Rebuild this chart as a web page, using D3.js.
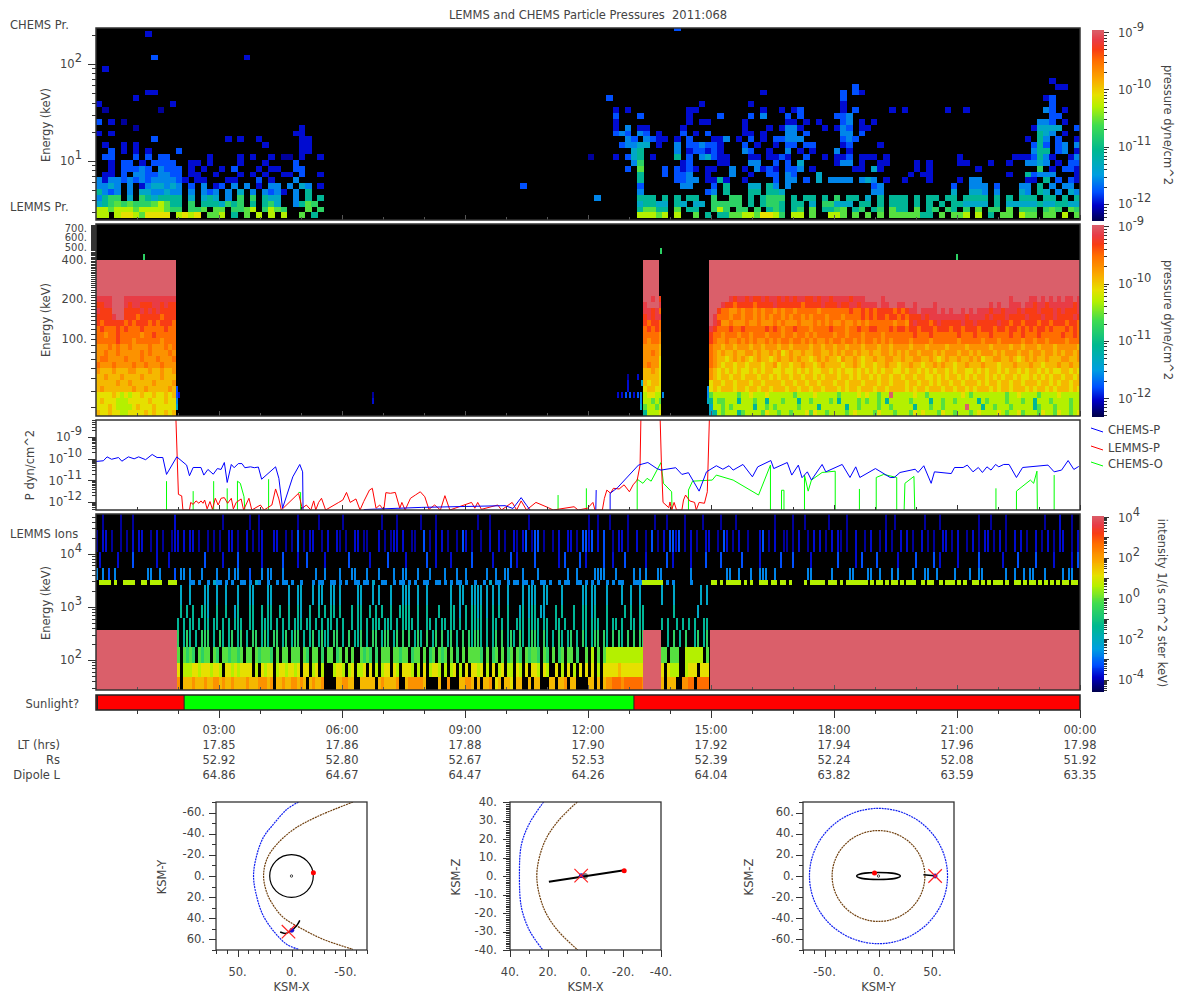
<!DOCTYPE html>
<html>
<head>
<meta charset="utf-8">
<title>LEMMS and CHEMS Particle Pressures</title>
<script src="https://d3js.org/d3.v7.min.js"></script>
<style>
  html, body { margin: 0; padding: 0; background: #fff; }
  text { font-family: "DejaVu Sans", sans-serif; font-size: 11.5px; fill: #444; }
  rect.cell { shape-rendering: crispEdges; }
  .tick line { stroke: #333; shape-rendering: crispEdges; }
  .domain { display: none; }
</style>
</head>
<body>
<div id="chart"></div>
<script>
// level characters used in all the spectrogram rows, "." means no data (black)
const levelChars = "0123456789abcdef";
// position of each level on the colour bar, 0 is the bottom and 1 the top
const levelPos = [0.05, 0.09, 0.15, 0.21, 0.28, 0.36, 0.46, 0.52, 0.6, 0.66, 0.72, 0.78, 0.84, 0.9, 0.95, 1];
const rampPos = [0, 0.08, 0.15, 0.24, 0.37, 0.5, 0.6, 0.66, 0.74, 0.84, 0.9, 0.95, 1];
const rampColors = ["#000050", "#0000c8", "#0050ff", "#009fe0", "#00b890", "#3fdc50", "#b4f000", "#e6e000", "#faaa00", "#ff6e00", "#f83c14", "#e83c46", "#da5f6a"];

// CHEMS pressure: one character every 9 minutes, top row first
const chemsLeftCol = 0;
const chemsLeft = [
  "........1. .......... .......... .......",
  ".......... .......... .......... .......",
  ".......... .......... .......... .......",
  ".......... .......... .......... .......",
  ".........2 .......... ....1..... .......",
  ".......... .......... .......... .......",
  ".1........ .......... .......... .......",
  ".......... .......... .......... .......",
  ".......... .......... .......... .......",
  ".......... .......... .......... .......",
  "........11 .......... .......... .......",
  "......1... .......... .......... .......",
  "1......... ..1....... .......... .......",
  ".0........ 0......... .......... .......",
  ".......... .......... .......... .......",
  "2.1.0..... .......... .......... .......",
  "......0... .......... .......... ...1...",
  "1.1....... .......... .......... ..11...",
  ".........2 .......... .1.1..1... ...11..",
  ".1..1.1... .......... .......1.. ...11..",
  "..2.1.1.1. ...2...... .......... ...11..",
  ".22...2.2. 22......1. ...1.1..1. 00.1..1",
  "..1.22.1.2 222..11.1. ...1...1.. ..2....",
  "..1.22232. 3222.1.1.. 1.2...1.11 ..22...",
  ".11.2.3322 3322.11..1 ...1.1.1.. 11.2..1",
  "3133232323 33321.11.. .11...2.1. ..3....",
  "3343.3.134 4343.2.3.1 2.3.3.1.33 .3.43.1",
  "5323.3.443 3433.3.323 .3.4.3.323 1.3.5..",
  "3566.4.654 5555.4.454 .3.6.6.544 ..3.5.5",
  "4567676667 8755.6.555 4656.5.564 ..3576.",
  "8878887888 8766.667.7 7.6678.687 6...7.6",
  "88.8998799 99.8989.77 8.5.7.8.8. 8..7.5."
];
const chemsRightCol = 81;
const chemsRight = [
  ".......... .......... .......... .......... .......... .......... .......... ....1....",
  ".......... .......... .......... .......... ..2....... .......... .......... .....11..",
  ".......... .......... .......1.. .......... 2.21...... .......... .......... .........",
  "..2....... .......... .......... .......... 2......... .......... .......... ...12....",
  ".......... .......1.. .....1.... .......... 1......... .......... .......... ....2....",
  "...1.1.... .....11... .......1.. 1.12...... 1.2.....1. 1......1.. 1......... ...32.1..",
  "...2...2.. .....1.... 2....2.3.. .2.2.....2 23........ .......... .......... ....22...",
  "...1...... .....1.11. ....1..... .11.1.1... 23.1.1.... .......... .......... ..332.1..",
  "...1.3.11. ....1..... ....1...1. 1331...1.1 32.11..... .......... .......... .14444..2",
  "...232.32. 1...2.1.2. ....11.1.. .33.2..... 33.2...... .......... .......... ..543.1..",
  ".....32.32 11.1.2...1 13.1.2.1.2 2333...... 232....... .......... .......... 1.53.2..1",
  "....23344. 1..3.22322 1...2.1..1 .22.22.... 12....1... .......... .......... .252.23.3",
  "......45.. ...3.12212 1...32..1. .3.1.1...3 .1........ .......... .......... .355.23.1",
  "...1.245.1 ...5.2.342 11...11.11 21..2..1.1 12.111.1.. .........1 ........11 12531..13",
  "......36.. ....12.... 11...33..2 .2.4.....1 33.1..11.. ..1.1....1 1...1..1.. 3343.1.22",
  ".....2.7.. .2.2121.11 ..3.1.3121 .223.1.... ..11.41... ..1.1..... ..1....... ..6.1.221",
  ".......5.. .2.223..1. ..3..1..22 .32...4... .......... .1.11..... .......1.. 52333...1",
  ".......5.. ...2233.11 51..1....2 .33.2.4.33 33.343.1.. 1...1....1 .33....... 11.5.2.21",
  ".......2.. ....33...2 .5...44.53 .3........ .....23... ........2. .333.2...3 3.5.3.33.",
  ".......3.. ........23 .5...55.55 4......... .....33... ........4. .443.3...4 3.54.3.43",
  "3......555 .5.5.55..6 ..66.5.566 6.5.55.5.6 .55.4.5.55 5.5.55.55. 5555.5.5.5 55.55.5.5",
  ".......455 44.54.44.6 6666.5.566 5.55.4.664 44.55.5.55 5.5.5.5.55 4444.5.444 445445544",
  ".......577 55.7.55..6 86.66.6.56 5.56.7.556 7.56.56.75 5.7.56.65. 6.7.66.7.6 66.676.76",
  ".......888 78.8..7.5. 5577887998 6.88.7..88 7.7.7.7.77 77755.7.77 8.8.5.77.8 77.77.8.7"
];
// a few cells outside the two blocks: [column, row, level]
const chemsStray = [[69, 5, 2], [94, 32, 2], [80, 10, 0]];
const chemsBaseEnergy = 2.56;
const chemsRowRatio = 1.149;

// LEMMS pressure: one character every 4 pixels of time, top row first
const lemmsColHours = 0.0976;
const lemmsLeftStart = 0;
const lemmsLeft = [
  "eeeefffeeeeeeeeeeeee",
  "ddeefffedeedddeededd",
  "edddfffddddedededddd",
  "ddddeffdddcdddddcddd",
  "dcdddddcdcdddcdcdddc",
  "cdcccdcdcccdcccccdcc",
  "ccbccdcccccbccdccccc",
  "cccccdcccbccccccbccc",
  "bbbcbcbbcbbbbcbbbcbc",
  "bbcbbcbbbbbcbcbbbbcb",
  "bccbbbbcbbbcbbbcbbbc",
  "cbbbcbbbbcbbcbbbcbbb",
  "baaabaaabbaaabaabaab",
  "aabaaabaaaabaaaabaaa",
  "aaaaabaabaaaaabaaaab",
  "abaaaaaaabaabaaaaaba",
  "9999a989899a99a99a9a",
  "9a99988899999a999a99",
  "999a988889a999a99999",
  "a99a99889999a9a99a9a"
];
const lemmsMidStart = 13.34;
const lemmsMid = [
  "ffefd", "efffe", "eedec", "dedee", "dcddc", "cdcdc", "ccccb", "cbccb", "bbbba", "bbcba",
  "bbbb9", "bcbb9", "aaba9", "aaaa9", "a9aa9", "9aa99", "89988", "88787", "78878", "58889"
];
const lemmsRightStart = 14.95;
const lemmsRight = [
  "fffffedeed eddedeeded edeeddedee deeeedeeef fffeffffff ffffffffff ffffffffff fffffeffff eefefefefe efe",
  "fffeddcddd dcddddeddd dddcdddded ddeddeedee eefeeffeef feffffefff ffffffffff efeffeeefe edeedeeeee ede",
  "ffdccbbcbc cbcbccbcbc cbcccccbcc cccccdccdc dcddddcdcd eefeeeefef effefefeee deedeeeded ddedddeded dde",
  "fecccbccbc cbcbcbccbc bccbcbcccb cccbccccdc dcddcddcdc dddedeeeee eeeedeeeed edddedddde dddeddeddd ded",
  "fedbbcbbbc bbcbbbcbcb bbcbbbcbcb cbbcbbcbcb ccccccbccb dedddcdedd dddeddeddd ddeddcddcd ddcddcdddc ddc",
  "edcccdccdc ccccdcdcbc cdcccbcccc dcccbccdcc ddcccdcddc ddcdddcddd cddcdddcdd dcddcddcdc dcddcdcccd cdc",
  "dccbcccbcc bcccbcccbc cbccbcbccc cbccbcccbc cccbcccccc cdcccdcccc ccdcccdccc dccccdccdc ccdcccccdc cdc",
  "dcbbcbbcbc bcbbcbcbcc bccbcbcbbc bccbccbcbc cbcbcbcccc bccccbcccc ccbcccccbc ccbcccccbc cbccbccccb ccc",
  "cbbabbabbb abbabbbabb abbbbabbab babbabbbab bbabbabbbb abbbabbbba bbbbabbbbb abbbbabbab bbabbbabbb bba",
  "cbabaabaab babaabab9a baabaabbaa bababbabaa baabbababa bbabbbabab bbabbababb bababbbabb abbabbabab bab",
  "cbaa9ababa 9abaa9abaa babaa9abab aa9baaba9a abaabbaaba abbaaba9ab aabaabab9a abbaaba9ab abaabaaabb aab",
  "cba9aa9aa9 aaa9aab9aa 9aabaa9aba aaa9aaba9a a9aabaa9aa baa9aababa a9aabaaaba aa9aaabaaa baa9aaabaa baa",
  "ba9a9a9a99 a9a9aa99a9 9a9a9a99aa 9a9a99a9a9 a9a9aa99a9 aa9a9a9aa9 a9aa99a9a9 aa9a9aa9a9 aa9a9a99aa 9a9",
  "ba9aa9aa9a aa9aa9a9aa 9aa9aa9a9a aa9aa9a9aa 9a9aa9aa9a a9aa99a9a9 aa9a9a9aa9 a9a9aa9a99 a9a9a9aa9a a9a",
  "9aa9aa9aaa 9aa9aaaa9a a9aa9aa9aa a9aa9aaa9a aa9aa9aaa9 aa9aa9a9aa 9aa9aaa9a9 aa9aa9aa9a aa9aa9a9aa 9aa",
  "9a9aaa9aa9 aa9aa9aaa9 aa9aa9aa9a aa9a9aa9aa a9aa9aaaa9 a9aa9aaa9a a9aa9a9aaa 9a9aa9aaa9 a9aa9a9aaa 9a9",
  "7888888788 9888988888 8788889888 8878888989 88788.8888 8988788888 8889878888 8888788988 8878888988 888",
  "5877888588 8788588878 8858878888 7858888787 8878588888 7888858878 8788888587 8888788878 8588878888 788",
  "4887878888 8588787888 8878888588 8888588788 8878878888 8588878878 8888.88858 8788878888 8578887888 788",
  "4587888578 8887988788 7888979887 8888789888 8798887888 7989888798 8788878988 8898788978 8879887988 789"
];
// saturated (salmon) stretches of LEMMS pressure, start and end hour
const lemmsSatStart = [0, 13.34, 14.95];
const lemmsSatEnd = [1.95, 13.73, 24];
const lemmsBaseEnergy = 25.6;
const lemmsRowRatio = 1.112;
const lemmsSatTop = 404;
// small patches outside the blocks: [hour, row, level]
const lemmsStray = [
  [1.15, 26, 6], [13.76, 27, 6], [20.98, 26, 6], [1.95, 3, 2], [2.0, 3, 1], [1.95, 4, 2], [1.95, 2, 3],
  [1.95, 1, 4], [6.73, 3, 0], [6.73, 2, 1], [12.7, 3, 1], [12.8, 3, 1], [12.9, 3, 2], [13.0, 3, 2],
  [13.1, 3, 1], [13.2, 3, 2], [13.28, 3, 3], [13.2, 6, 1], [13.28, 1, 4], [13.28, 2, 3], [13.29, 5, 4],
  [12.95, 4, 1], [12.95, 5, 1], [12.95, 6, 0], [13.8, 3, 3], [14.9, 3, 3], [14.9, 2, 4], [14.9, 4, 3]
];

// line panel, hours and log10 of the pressure, null breaks the line
const chemsPHours = [0, .18, .27, .38, .55, .63, .79, .93, 1.04, 1.21, 1.37, 1.49, 1.63, 1.72, 1.97, 2.21, 2.28, 2.37, 2.56, 2.63, 2.73, 2.86, 2.96, 3.05, 3.13, 3.20, 3.30, 3.37, 3.47, 3.56, 3.63, 3.77, 3.86, 3.96, 4.04, 4.38, 4.46, 4.55, 4.80, 4.97, 5.04, 5.05, 5.06,
  6.53, 7.93, 9.98, 10.17, 10.37, 10.5, 10.6, 10.61,
  12.19, 12.2, 12.21,
  12.54, 12.54, 12.72, 13.23, 13.46, 13.68, 13.78, 14.14, 14.29, 14.45, 14.71, 14.89, 15.13, 15.29, 15.44, 15.54, 15.78, 16.01, 16.14, 16.46, 16.53, 16.86, 16.97, 17.13, 17.22, 17.35, 17.45, 17.71, 17.80, 18.20, 18.39, 18.53, 18.63, 19.01, 19.37, 19.47, 19.61, 19.98, 20.05, 20.19, 20.37, 20.45, 20.86, 20.94, 21.15, 21.25, 21.39, 21.52, 21.62, 21.73, 21.83, 21.94, 22.02, 22.14, 22.27, 22.45, 22.60, 23.22, 23.37, 23.55, 23.71, 23.85, 23.97];
const chemsPLog = [-10.13, -10.10, -9.92, -10.03, -9.95, -10.12, -9.92, -10.01, -9.92, -10.05, -9.81, -9.95, -9.95, -10.73, -9.92, -10.30, -10.79, -10.41, -10.41, -10.76, -10.50, -10.72, -10.46, -10.50, -10.18, -11.10, -10.27, -10.42, -10.23, -10.23, -10.42, -10.38, -10.42, -10.39, -10.95, -10.38, -10.91, -12.29, -10.84, -10.27, -10.61, -12.37, null,
  -12.35, -12.25, -12.17, -12.3, -11.8, -12.15, -12.4, null,
  -12.4, -11.45, null,
  -12.4, -11.60, -11.34, -10.30, -10.18, -10.46, -10.53, -10.42, -10.73, -10.65, -11.50, -10.61, -10.33, -10.49, -10.33, -10.53, -10.27, -10.84, -10.38, -10.09, -10.46, -10.18, -10.76, -10.30, -10.88, -10.61, -10.99, -10.27, -10.61, -10.27, -10.87, -10.38, -10.87, -10.46, -10.87, -10.87, -10.64, -10.49, -10.64, -10.33, -11.14, -10.61, -10.69, -10.41, -10.41, -10.30, -10.61, -10.41, -10.64, -10.38, -10.53, -10.27, -10.38, -10.27, -10.27, -10.87, -10.41, -10.30, -10.61, -10.53, -10.09, -10.50, -10.36];

const lemmsPHours = [1.95, 2.01, 2.09, 2.12, 2.28, 2.31, 2.37, 2.44, 2.51, 2.56, 2.61, 2.65, 2.71, 2.78, 2.84, 2.91, 2.98, 3.05, 3.13, 3.21, 3.30, 3.35, 3.42, 3.54, 3.60, 3.73, 3.80, 4.01, 4.10, 4.19, 4.29, 4.38, 4.46, 4.52, 4.94, 5.03, 5.13, 5.24, 5.31, 5.36, 5.43, 5.50, 5.60, 5.92, 6.02, 6.11, 6.20, 6.34, 6.44, 6.53, 6.67, 6.74, 6.83, 6.92, 7.02, 7.07, 7.18, 7.30, 7.41, 7.46, 7.54, 7.67, 7.79, 7.91, 8.02, 8.12, 8.26, 8.40, 8.51, 8.63, 9.16, 9.24, 9.31, 9.40, 9.80, 9.89, 10.15, 10.26, 10.37, 10.50, 10.73, 11.03, 11.15, 11.66, 11.76, 11.99, 12.12, 12.17, 12.35, 12.40, 12.46, 12.55, 12.62, 12.76, 12.88, 13.01, 13.10, 13.20, 13.27, 13.29, 13.76, 13.79, 13.83, 13.97, 14.0, 14.04, 14.10, 14.16, 14.29, 14.33, 14.38, 14.48, 14.60, 14.64, 14.71, 14.84, 14.91, 14.96];
const lemmsPLog = [-8.2, -11.65, -11.72, -12.37, -12.37, -12.02, -12.11, -11.95, -12.06, -11.95, -12.06, -11.91, -12.32, -11.98, -12.34, -11.83, -12.14, -11.83, -11.80, -12.06, -11.83, -12.32, -12.02, -11.86, -12.37, -11.83, -12.37, -12.14, -12.37, -12.26, -12.14, -11.40, -11.86, -12.37, -11.60, -12.29, -12.14, -12.37, -11.95, -12.37, -12.02, -11.83, -12.37, -12.02, -11.91, -11.56, -12.02, -11.86, -12.37, -11.98, -11.45, -11.37, -12.29, -12.14, -12.37, -11.57, -11.60, -11.56, -12.29, -12.02, -12.37, -11.83, -11.68, -11.53, -11.76, -12.34, -12.14, -12.37, -11.71, -12.37, -12.02, -12.29, -12.02, -12.34, -12.14, -12.37, -12.02, -12.37, -11.95, -12.37, -12.02, -12.26, -12.37, -12.22, -12.37, -12.29, -12.02, -12.37, -12.37, -11.83, -11.45, -11.60, -11.37, -11.40, -11.21, -11.53, -11.21, -10.99, -10.30, -8.2, -8.2, -10.18, -12.02, -12.26, -12.0, -12.37, -12.02, -12.37, -12.37, -11.91, -11.68, -11.95, -12.02, -12.37, -12.02, -12.06, -11.53, -8.2];

const chemsOHours = [1.72, 1.72, null, 2.37, 2.37, null, 2.87, 2.87, null, 3.20, 3.20, null, 3.45, 3.45, 3.52, 3.61, 3.63, null, 4.21, 4.21, null, 4.94, 4.99, 4.99, null, 11.27, 11.27, null, 11.96, 11.96, null,
  13.20, 13.20, 13.34, 13.44, 13.54, 13.78, 13.84, 14.04, 14.05, null, 14.45, 14.45, 14.55, 15.03, 15.13, 15.54, 16.16, 16.45, 16.45, null, 16.72, 16.72, 16.78, 16.78, null, 17.28, 17.28, 17.37, 17.45, 17.71, 18.03, 18.03, null, 18.62, 18.62, null, 19.03, 19.03, 19.21, 19.53, 19.53, null, 19.71, 19.73, 19.95, 19.97, null, 21.95, 21.95, null, 22.45, 22.45, 22.79, 22.87, 22.95, 22.96, null, 23.37, 23.37];
const chemsOLog = [-12.4, -11.04, null, -12.4, -11.50, null, -12.4, -11.04, null, -12.4, -11.37, null, -12.4, -11.04, -11.14, -11.76, -12.4, null, -12.4, -10.95, null, -11.56, -11.56, -12.4, null, -12.4, -11.68, null, -12.4, -11.37, null,
  -12.4, -10.95, -11.14, -10.91, -11.04, -10.18, -11.14, -11.53, -12.4, null, -12.4, -11.45, -11.04, -10.99, -10.76, -10.99, -11.68, -10.30, -12.4, null, -12.4, -11.46, -11.46, -12.4, null, -12.4, -10.76, -11.50, -10.99, -10.64, -10.58, -12.4, null, -12.4, -11.40, null, -12.4, -10.87, -10.73, -10.87, -12.4, null, -12.4, -11.14, -10.82, -12.4, null, -12.4, -11.37, null, -12.4, -11.50, -10.99, -11.14, -10.58, -12.4, null, -12.4, -10.76];

// LEMMS ions energy channels, keV edges from the bottom up
const ionEdges = [27, 48, 88, 176, 368, 620, 1090, 2600, 3200, 5400, 10900, 28300, 56000];
const ionColHours = 0.0732;
const ionLowStart = [1.976, 13.78];
const ionLow = [
  // channels 6 down to 0, first 156 characters fall in the first stretch, last 16 in the second
  [".4..4....4 4..4..4... 4...44.... 44.....4.. 44...4.44. .44.4..... 44...4.4.. .4...444.. 4..4...... .4..44..44 44.4.4.4.. 4....4.444 ..44....4. .....44.44 ...4....4. .4..4.", "4...4........4.4"],
  [".5.5.5..55 4..5..5..4 5...55..5. 55..5..5.. 54..5..5.5 .55.5...5. 55..5.5.5. .5..5555.. 5..5...5.. .55.4.5.55 45.4.5.5.. 5...45.455 .44...5.5. ..5..55.45 ...5.....5 .5..55", "....5.......4..."],
  ["5.5.55.5.5 5.55.5.5.5 55..55..55 55.5.5.5.5 55.55.5.5. 55.5.5..5. 55.5.555.5 55.5.5555. 5..55.5.55 .55.5.5.55 55.5.55.5. 5..555.555 5.55..55.5 ..5..55.55 5..5.55.5. .55.55", "5.5..5.5.5.5..55"],
  ["6.565.5.66 6.5.65.56. 56.5.66.56 5.66.56.56 6.5.56.565 5.66.5.6.5 56.5.66.56 6.56.6.6.5 65.6.56.6. 56.5.6.656 65.5.56.6. 565.65.566 5.65.5.65. 56.5.65.56 6.65.6.65. 6.6.66", "..5.6.5.6..56.56"],
  ["7.7676.767 7.76.77677 67.77.7677 76.7.77.77 7.76.77.6. 77.67.7.7. .7676.6.77 7.77677.67 7.7.67.767 .7.6.7.777 76.7.67.7. 67.76.7677 6.76.7.67. 77.6..7.8. 7.78888888 888888", "77.777..888888.7"],
  ["9.88899899 98998.9989 89999.8.98 99.8998998 9.99.89.8. ..8998.89. 889.9.8.89 9.98.9998. 8.9.8998.8 .89.8.9.99 89.8.9.89. 88.98.9.99 8.98..9.8. 9.8.9.9.9. 8.99999a99 999999", "9.9888..8999.999"],
  ["b.aaabaaab aabbabaaba aaabaaabbb ab.aabaabb aba.abaab. ...aabbaa. .aaaaa.aba aaab..abbb bba....a.. b...aabba. a.aab.9a.a a9.aa..a.a a...aa.aab .aa....aa. a.abbcccbc cccccb", "a.aaa..bbcc.cccc"]
];
// channels 11 down to 7, whole day
const ionHigh = [
  "..0.....0. ..0....... ......1... .......... ..0....... .0..0..... .......0.. ....0..... ..0....... .....0.... 0.......0. ...0...... .......0.. .0........ ....0..... .......... ....0..0.. .0.....0.. ......0... 0.....0... ..0.....0. ...0...... ......0... ..0...0... ....0..... 0......... ...0..0... ......0... .0........ ....0...0. ...0...... ......0... .1...0....",
  "0.11.0..0. 0.1.11..0. 1.0..011.1 .11.0..0.0 .0..11.0.. 1.0.01...1 1..0.0.2.0 .11..0.1.. 10.0..11.0 0...1.0.01 1.1..00..2 .0.1.1.0.. 0.21.0..0. .1..1.0..1 0.12.022.0 ..0.1..11. 0.2212.1.2 ..0.11.0.. 1..0.2.0.1 .2212.0.1. 0..11..0.2 1.0.1..0.. .12.0.1..0 0.0.1..0.1 .1.0.1.10. 0..1..0.1. .0.1.0..1. 1.0..1.0.0 ..11.0.1.. 0.1.0.11.0 .1.0..1.1. 0..1.0.1.0 .11..0.1.0",
  ".1.....1.. ..2....... 1...1..... ......2... ..1....2.. .....1.... ..2....1.. 2.....1... ....2..... .1.....2.. ...1...... 2..1....1. .....2.... ..1.....2. 1.....2... ....1.2... .2.1.....2 ..1...2... ...1...... 2.1.....1. ...2....2. .....2.... .1......2. ..2.....1. .......2.. ...1.2.... 2......1.. ...2.....2 .1.....1.. ....2..... ..1....2.. ...2.....1 .....1.2..",
  "3.3.2.3... .......33. .3....2.33 .3...3.... 3...3.33.. .2...3.33. ..3....... ...3..3... .3...33... 3...3....3 ..33...3.. .3....3... 3..3...... 3..3..33.. ..3....3.. .......3.. 3.....3333 ...3.....3 .3.3...33. ........3. .......... 33..3...3. .333..3... .......33. .....3.... .33....33. .3...3.3.. ..3...33.. 3.....3... .3..33.... ...3..3..3 .33...3... ..3.33....",
  ".8888.8..8 888..88.88 88..888... .33.3..3.4 33.3.3..33 .3.43..3.. 3.33.3..3. ..3.33..33 .3.3..33.3 3.4..33..3 .33.3.3..3 3..33.3.3. 33.3..3..3 .4.33..3.3 3.33.3..33 .3..3.33.. 33.3.3.3.. 3.3.33...3 338888888. 3.3.....3. .....88.8. 88888.8.8. .888.88.88 .8....8.88 888.888.8. 8888888.8. 88.8.88.8. 888..8.88. .8.888.8.8 ..88.8.8.8 88.8..88.8 .88.8.8.8. 8.88.88.88"
];
const ionSatStart = [0, 13.34, 14.97];
const ionSatEnd = [1.976, 13.78, 24];
const ionSatTop = 368;

// sunlight bar
const sunStart = [0, 2.15, 13.12];
const sunEnd = [2.15, 13.12, 24];
const sunColors = ["#ff0000", "#00ff00", "#ff0000"];

// time axis and ephemeris rows
const timeHours = [3, 6, 9, 12, 15, 18, 21, 24];
const timeLabels = ["03:00", "06:00", "09:00", "12:00", "15:00", "18:00", "21:00", "00:00"];
const ltValues = ["17.85", "17.86", "17.88", "17.90", "17.92", "17.94", "17.96", "17.98"];
const rsValues = ["52.92", "52.80", "52.67", "52.53", "52.39", "52.24", "52.08", "51.92"];
const dipoleValues = ["64.86", "64.67", "64.47", "64.26", "64.04", "63.82", "63.59", "63.35"];

// orbit plots, KSM coordinates in Saturn radii
const bowXY = [[-6.5, -70], [4.3, -63], [16.7, -49], [26, -36.6], [32, -20.5], [35.2, 0], [32, 20.5], [26, 37.9], [15.4, 53.6], [4.3, 64.7], [-6.5, 69.4]];
const pauseXY = [[-57, -70], [-23.5, -56], [-1.9, -44], [13.6, -30], [22.8, -16], [25.9, 0], [22.8, 16], [16.7, 28], [7.4, 39.4], [-8, 49], [-29.6, 60], [-57, 69.4]];
const trackXY = [[10.5, 53], [5.9, 54.3], [1.2, 52.7], [-2.5, 49.5], [-5.6, 45.7], [-7.7, 41.9]];
const bowXZ = [[22.2, 40], [29.4, 29], [33.9, 17.2], [35, 0], [33.9, -17.2], [29.4, -30], [22.6, -40]];
const pauseXZ = [[4.4, 40], [15.1, 29], [22.2, 17.2], [25.8, 0], [22.2, -17.2], [15.1, -29], [4.1, -40]];
const trackXZ = [[19.4, -3.1], [-20.5, 3.1]];
const trackYZ = [[41.6, 1.2], [51.9, 0.3]];
const titanOrbitRadius = 20.2;
const titanOrbitTilt = 3.3;
const bowRadiusYZ = 64;
const pauseRadiusYZ = 43;
const titanXY = [-20.3, -3];
const titanXZ = [-20.5, 2.8];
const titanYZ = [-3.7, 2.8];
const cassiniXY = [-0.3, 51.4];
const cassiniXZ = [2.3, 0.2];
const cassiniYZ = [52.5, 0];
const crossXY = [2.8, 52.7];
const crossXZ = [2.3, 0.2];
const crossYZ = [52.5, 0];

// ---------------------------------------------------------------------------
const svg = d3.select("#chart").append("svg")
  .attr("width", 1200).attr("height", 1000)
  .style("display", "block");

const x = d3.scaleLinear().domain([0, 24]).range([96, 1080]);
const ramp = d3.scaleLinear().domain(rampPos).range(rampColors);
const levelColor = ch => ramp(levelPos[levelChars.indexOf(ch)]);

const y1 = d3.scaleLog().domain([2.46, 235]).range([220, 28]);
const y2 = d3.scaleLog().domain([25.6, 767]).range([416, 224]);
const y3 = d3.scaleLinear().domain([-12.37, -8.22]).range([510, 420]);
const y4 = d3.scaleLog().domain([27, 56000]).range([690, 514]);

function text(s, tx, ty, anchor) {
  return svg.append("text").attr("x", tx).attr("y", ty)
    .attr("text-anchor", anchor || "start").attr("dominant-baseline", "middle").text(s);
}

function rotatedText(s, tx, ty, angle) {
  return svg.append("text").attr("text-anchor", "middle").attr("dominant-baseline", "middle")
    .attr("transform", "translate(" + tx + "," + ty + ") rotate(" + angle + ")").text(s);
}

function addPanel(name, yScale, background) {
  const [bottom, top] = yScale.range();
  svg.append("clipPath").attr("id", name)
    .append("rect").attr("x", 96).attr("y", top).attr("width", 984).attr("height", bottom - top);
  svg.append("rect").attr("x", 96).attr("y", top).attr("width", 984).attr("height", bottom - top)
    .attr("fill", background);
  return svg.append("g").attr("clip-path", "url(#" + name + ")");
}

function frame(yScale) {
  const [bottom, top] = yScale.range();
  svg.append("rect").attr("x", 96).attr("y", top).attr("width", 984).attr("height", bottom - top)
    .attr("fill", "none").attr("stroke", "#333").attr("stroke-width", 1.5);
}

// turn rows of level characters into cell objects, top row first
function parseGrid(rows) {
  const out = [];
  rows.forEach((s, i) => {
    Array.from(s.replace(/ /g, "")).forEach((ch, c) => {
      if (ch !== ".") out.push({ row: rows.length - 1 - i, col: c, ch: ch });
    });
  });
  return out;
}

function drawCells(g, data, xOf, wOf, lowOf, highOf, yScale) {
  g.append("g").selectAll("rect").data(data).join("rect")
    .attr("class", "cell")
    .attr("x", d => xOf(d))
    .attr("width", d => wOf(d))
    .attr("y", d => yScale(highOf(d)))
    .attr("height", d => yScale(lowOf(d)) - yScale(highOf(d)))
    .attr("fill", d => levelColor(d.ch));
}

function logTicks(lo, hi) {
  const major = [], minor = [];
  for (let e = Math.floor(Math.log10(lo)); e <= Math.ceil(Math.log10(hi)); e++) {
    for (let k = 1; k < 10; k++) {
      const v = k * Math.pow(10, e);
      if (v < lo * 0.9999 || v > hi * 1.0001) continue;
      (k === 1 ? major : minor).push(v);
    }
  }
  return { major, minor };
}

function expLabel(sel, tx, exp) {
  const t = sel.append("text").attr("x", tx).attr("y", 0).attr("dominant-baseline", "middle").attr("text-anchor", "start");
  t.append("tspan").text("10");
  t.append("tspan").attr("dy", -6).text(exp);
}

function logAxisLeft(yScale, labelExps) {
  const t = logTicks(yScale.domain()[0], yScale.domain()[1]);
  svg.append("g").attr("transform", "translate(96,0)")
    .call(d3.axisLeft(yScale).tickValues(t.minor).tickSize(4).tickFormat(""));
  const g = svg.append("g").attr("transform", "translate(96,0)")
    .call(d3.axisLeft(yScale).tickValues(t.major).tickSize(8).tickFormat(""));
  g.selectAll(".tick").each(function (d) {
    const e = Math.round(Math.log10(d));
    if (labelExps && labelExps.indexOf(e) < 0) return;
    const lab = d3.select(this).append("text").attr("text-anchor", "end").attr("x", -14).attr("dominant-baseline", "middle");
    lab.append("tspan").text("10");
    lab.append("tspan").attr("dy", -6).text(e);
  });
}

function hourTicks(yScale, color) {
  const bottom = yScale.range()[0];
  const g = svg.append("g").attr("transform", "translate(0," + bottom + ")");
  g.call(d3.axisTop(x).tickValues(d3.range(1, 24)).tickSize(3).tickFormat(""));
  g.selectAll(".tick line").style("stroke", color);
  const g2 = svg.append("g").attr("transform", "translate(0," + bottom + ")");
  g2.call(d3.axisTop(x).tickValues(timeHours).tickSize(5).tickFormat(""));
  g2.selectAll(".tick line").style("stroke", color);
}

function colorBar(yTop, yBottom, expTop, expBottom) {
  const bar = d3.scaleLinear().domain([0, 1]).range([yBottom, yTop]);
  const steps = d3.range(0, 1, 1 / 190);
  svg.append("g").selectAll("rect").data(steps).join("rect")
    .attr("class", "cell")
    .attr("x", 1092).attr("width", 12)
    .attr("y", d => bar(d) - (yBottom - yTop) / 190 - 0.5)
    .attr("height", (yBottom - yTop) / 190 + 1)
    .attr("fill", d => ramp(d));
  const scale = d3.scaleLog().domain([Math.pow(10, expBottom), Math.pow(10, expTop)]).range([yBottom, yTop]);
  const t = logTicks(scale.domain()[0], scale.domain()[1]);
  svg.append("g").attr("transform", "translate(1104,0)")
    .call(d3.axisRight(scale).tickValues(t.minor).tickSize(3).tickFormat(""));
  const g = svg.append("g").attr("transform", "translate(1104,0)")
    .call(d3.axisRight(scale).tickValues(t.major).tickSize(5).tickFormat(""));
  return g;
}

function barLabels(g, exps) {
  g.selectAll(".tick").each(function (d) {
    const e = Math.round(Math.log10(d));
    if (exps.indexOf(e) < 0) return;
    expLabel(d3.select(this), 14, e);
  });
}

// ---- CHEMS panel ----------------------------------------------------------
const p1 = addPanel("clip1", y1, "#000");
const chemsCells = [];
parseGrid(chemsLeft).forEach(d => chemsCells.push({ row: d.row, col: d.col + chemsLeftCol, ch: d.ch }));
parseGrid(chemsRight).forEach(d => chemsCells.push({ row: d.row, col: d.col + chemsRightCol, ch: d.ch }));
chemsStray.forEach(d => chemsCells.push({ col: d[0], row: d[1], ch: levelChars[d[2]] }));
drawCells(p1, chemsCells,
  d => x(d.col * 0.15),
  d => x(0.15) - x(0) + 0.3,
  d => chemsBaseEnergy * Math.pow(chemsRowRatio, d.row),
  d => chemsBaseEnergy * Math.pow(chemsRowRatio, d.row + 1),
  y1);
hourTicks(y1, "#555");
frame(y1);
logAxisLeft(y1);

// ---- LEMMS pressure panel -------------------------------------------------
const p2 = addPanel("clip2", y2, "#000");
p2.append("g").selectAll("rect").data(d3.range(lemmsSatStart.length)).join("rect")
  .attr("class", "cell")
  .attr("x", i => x(lemmsSatStart[i]))
  .attr("width", i => x(lemmsSatEnd[i]) - x(lemmsSatStart[i]))
  .attr("y", y2(lemmsSatTop))
  .attr("height", y2(lemmsBaseEnergy) - y2(lemmsSatTop))
  .attr("fill", levelColor("f"));
const lemmsBlocks = [[lemmsLeft, lemmsLeftStart], [lemmsMid, lemmsMidStart], [lemmsRight, lemmsRightStart]];
const lemmsCells = [];
lemmsBlocks.forEach(b => parseGrid(b[0]).forEach(d => lemmsCells.push({ row: d.row, hour: b[1] + d.col * lemmsColHours, ch: d.ch, mid: b[1] === lemmsMidStart })));
lemmsStray.forEach(d => lemmsCells.push({ hour: d[0], row: d[1], ch: levelChars[d[2]], thin: true }));
drawCells(p2, lemmsCells,
  d => x(d.hour),
  d => d.thin ? 2 : d.mid && d.hour > 13.7 ? 2 : x(lemmsColHours) - x(0) + 0.3,
  d => lemmsBaseEnergy * Math.pow(lemmsRowRatio, d.row),
  d => lemmsBaseEnergy * Math.pow(lemmsRowRatio, d.row + 1),
  y2);
hourTicks(y2, "#555");
frame(y2);
svg.append("g").attr("transform", "translate(96,0)")
  .call(d3.axisLeft(y2).tickValues(d3.range(30, 770, 10)).tickSize(5).tickFormat(""));
[700, 600, 500, 400, 200, 100].forEach(v => text(v + ".", 87, y2(v), "end").style("font-size", v > 400 ? "10px" : null));

// ---- line panel -----------------------------------------------------------
const p3 = addPanel("clip3", y3, "#fff");
const pressureLine = d3.line().defined(d => d[0] !== null && d[1] !== null).x(d => x(d[0])).y(d => y3(d[1]));
function drawSeries(hours, logs, color) {
  p3.append("path").datum(hours.map((h, i) => [h, logs[i]]))
    .attr("d", pressureLine).attr("fill", "none").attr("stroke", color).attr("stroke-width", 1);
}
drawSeries(chemsOHours, chemsOLog, "#00ff00");
drawSeries(lemmsPHours, lemmsPLog, "#ff0000");
drawSeries(chemsPHours, chemsPLog, "#0000ff");
hourTicks(y3, "#333");
frame(y3);
// the pressure axis is linear in the exponent, the decade and minor positions are log10 values
const y3Major = [-12, -11, -10, -9];
const y3Minor = [];
d3.range(-13, -8).forEach(e => d3.range(2, 10).forEach(k => {
  const v = e + Math.log10(k);
  if (v > -12.37 && v < -8.22) y3Minor.push(v);
}));
svg.append("g").attr("transform", "translate(96,0)")
  .call(d3.axisLeft(y3).tickValues(y3Minor).tickSize(4).tickFormat(""));
const y3Axis = svg.append("g").attr("transform", "translate(96,0)")
  .call(d3.axisLeft(y3).tickValues(y3Major).tickSize(8).tickFormat(""));
y3Axis.selectAll(".tick").each(function (d) {
  const lab = d3.select(this).append("text").attr("text-anchor", "end").attr("x", -14).attr("dominant-baseline", "middle");
  lab.append("tspan").text("10");
  lab.append("tspan").attr("dy", -6).text(d);
});

// ---- LEMMS ions panel -----------------------------------------------------
const p4 = addPanel("clip4", y4, "#000");
const ionCells = [];
ionLow.forEach((rows, i) => {
  const channel = 6 - i;
  rows.forEach((s, part) => {
    Array.from(s.replace(/ /g, "")).forEach((ch, c) => {
      if (ch !== ".") ionCells.push({ channel: channel, hour: ionLowStart[part] + c * ionColHours, ch: ch });
    });
  });
});
ionHigh.forEach((s, i) => {
  const channel = 11 - i;
  Array.from(s.replace(/ /g, "")).forEach((ch, c) => {
    if (ch !== ".") ionCells.push({ channel: channel, hour: c * ionColHours, ch: ch });
  });
});
drawCells(p4, ionCells,
  d => x(d.hour),
  d => d.channel === 7 || d.channel < 3 ? x(ionColHours) - x(0) + 0.2 : 2,
  d => ionEdges[d.channel],
  d => ionEdges[d.channel + 1],
  y4);
p4.append("g").selectAll("rect").data(d3.range(ionSatStart.length)).join("rect")
  .attr("class", "cell")
  .attr("x", i => x(ionSatStart[i]))
  .attr("width", i => x(ionSatEnd[i]) - x(ionSatStart[i]))
  .attr("y", y4(ionSatTop))
  .attr("height", y4(ionEdges[0]) - y4(ionSatTop))
  .attr("fill", levelColor("f"));
hourTicks(y4, "#555");
frame(y4);
logAxisLeft(y4);

// ---- sunlight bar ---------------------------------------------------------
const sunG = svg.append("g");
sunG.selectAll("rect").data(d3.range(sunStart.length)).join("rect")
  .attr("class", "cell")
  .attr("x", i => x(sunStart[i]))
  .attr("width", i => x(sunEnd[i]) - x(sunStart[i]))
  .attr("y", 695).attr("height", 15)
  .attr("fill", i => sunColors[i]);
sunG.append("rect").attr("x", 96).attr("y", 695).attr("width", 984).attr("height", 15)
  .attr("fill", "none").attr("stroke", "#222").attr("stroke-width", 1.5);
sunG.append("line").attr("x1", x(sunEnd[0])).attr("x2", x(sunEnd[0])).attr("y1", 695).attr("y2", 710).attr("stroke", "#222");
sunG.append("line").attr("x1", x(sunEnd[1])).attr("x2", x(sunEnd[1])).attr("y1", 695).attr("y2", 710).attr("stroke", "#222");
sunG.append("line").attr("x1", 97.5).attr("x2", 97.5).attr("y1", 695).attr("y2", 710).attr("stroke", "#222");
svg.append("g").attr("transform", "translate(0,710)")
  .call(d3.axisBottom(x).tickValues(d3.range(1, 24)).tickSize(4).tickFormat(""));
svg.append("g").attr("transform", "translate(0,710)")
  .call(d3.axisBottom(x).tickValues(timeHours).tickSize(8).tickFormat(""));

// ---- colour bars ----------------------------------------------------------
barLabels(colorBar(30, 220, -8.965, -12.28), [-9, -10, -11, -12]);
barLabels(colorBar(225, 416, -8.98, -12.31), [-9, -10, -11, -12]);
barLabels(colorBar(516, 691, 4.05, -4.55), [4, 2, 0, -2, -4]);
rotatedText("pressure dyne/cm^2", 1167, 125, 90);
rotatedText("pressure dyne/cm^2", 1167, 320, 90);
rotatedText("intensity 1/(s cm^2 ster keV)", 1161, 603, 90);

// ---- legend ---------------------------------------------------------------
const legendNames = ["CHEMS-P", "LEMMS-P", "CHEMS-O"];
const legendColors = ["#0000ff", "#ff0000", "#00ff00"];
const legendY = [430, 448, 464];
legendNames.forEach((n, i) => {
  svg.append("line").attr("x1", 1091).attr("x2", 1103).attr("y1", legendY[i] - 2).attr("y2", legendY[i] + 2)
    .attr("stroke", legendColors[i]).attr("stroke-width", 1);
  text(n, 1108, legendY[i]);
});

// ---- panel texts ----------------------------------------------------------
text("LEMMS and CHEMS Particle Pressures  2011:068", 588, 15, "middle").style("white-space", "pre");
text("CHEMS Pr.", 10, 25);
text("LEMMS Pr.", 10, 207);
text("LEMMS Ions", 10, 534);
text("Sunlight?", 79, 704, "end");
rotatedText("Energy (keV)", 46, 125, -90);
rotatedText("Energy (keV)", 46, 320, -90);
rotatedText("P dyn/cm^2", 30, 465, -90);
rotatedText("Energy (keV)", 46, 603, -90);

timeHours.forEach((h, i) => {
  text(timeLabels[i], x(h), 730, "middle");
  text(ltValues[i], x(h), 745, "middle");
  text(rsValues[i], x(h), 760, "middle");
  text(dipoleValues[i], x(h), 775, "middle");
});
text("LT (hrs)", 60, 745, "end");
text("Rs", 60, 760, "end");
text("Dipole L", 60, 775, "end");

// ---- orbit plots ----------------------------------------------------------
function orbitPlot(o) {
  const px = d3.scaleLinear().domain(o.xDomain).range([o.left, o.left + 151]);
  const py = d3.scaleLinear().domain(o.yDomain).range([802, 950]);
  const id = "clip" + o.left;
  svg.append("clipPath").attr("id", id).append("rect")
    .attr("x", o.left).attr("y", 802).attr("width", 151).attr("height", 148);
  const g = svg.append("g").attr("clip-path", "url(#" + id + ")");
  const line = d3.line().x(d => px(d[0])).y(d => py(d[1])).curve(d3.curveCatmullRom);
  const dashed = (sel, color) => sel.attr("fill", "none").attr("stroke", color).attr("stroke-width", 1.2).attr("stroke-dasharray", "2 0.8");

  if (o.bow) dashed(g.append("path").datum(o.bow).attr("d", line), "#1020f0");
  if (o.pause) dashed(g.append("path").datum(o.pause).attr("d", line), "#70400f");
  if (o.bowRadius) {
    dashed(g.append("ellipse").attr("cx", px(0)).attr("cy", py(0))
      .attr("rx", Math.abs(px(o.bowRadius) - px(0))).attr("ry", Math.abs(py(o.bowRadius) - py(0))), "#1020f0");
    dashed(g.append("ellipse").attr("cx", px(0)).attr("cy", py(0))
      .attr("rx", Math.abs(px(o.pauseRadius) - px(0))).attr("ry", Math.abs(py(o.pauseRadius) - py(0))), "#70400f");
  }
  if (o.orbit) {
    g.append("ellipse").attr("cx", px(0)).attr("cy", py(0))
      .attr("rx", Math.abs(px(o.orbit[0]) - px(0))).attr("ry", Math.abs(py(o.orbit[1]) - py(0)))
      .attr("fill", "none").attr("stroke", "#000").attr("stroke-width", o.orbitWidth);
  }
  if (o.saturn) {
    g.append("circle").attr("cx", px(0.3)).attr("cy", py(0)).attr("r", 3).attr("fill", "#777");
  } else {
    g.append("circle").attr("cx", px(0)).attr("cy", py(0)).attr("r", 1.2).attr("fill", "#fff").attr("stroke", "#000").attr("stroke-width", 0.7);
  }
  g.append("path").datum(o.track).attr("d", line).attr("fill", "none").attr("stroke", "#000").attr("stroke-width", o.trackWidth);
  g.append("circle").attr("cx", px(o.titan[0])).attr("cy", py(o.titan[1])).attr("r", 2.5).attr("fill", "#f00");
  g.append("circle").attr("cx", px(o.cassini[0])).attr("cy", py(o.cassini[1])).attr("r", 2.4).attr("fill", "#1a10d0");
  g.append("path").attr("transform", "translate(" + px(o.cross[0]) + "," + py(o.cross[1]) + ")")
    .attr("d", d3.symbol().type(d3.symbolX).size(120)()).attr("fill", "none").attr("stroke", "#f22").attr("stroke-width", 1.2);

  svg.append("rect").attr("x", o.left).attr("y", 802).attr("width", 151).attr("height", 148)
    .attr("fill", "none").attr("stroke", "#333").attr("stroke-width", 1.3);
  svg.append("g").attr("transform", "translate(0,950)")
    .call(d3.axisBottom(px).tickValues(o.xMinor).tickSize(4).tickFormat(""));
  svg.append("g").attr("transform", "translate(0,950)")
    .call(d3.axisBottom(px).tickValues(o.xMajor).tickSize(7).tickFormat(""));
  svg.append("g").attr("transform", "translate(" + o.left + ",0)")
    .call(d3.axisLeft(py).tickValues(o.yMinor).tickSize(4).tickFormat(""));
  svg.append("g").attr("transform", "translate(" + o.left + ",0)")
    .call(d3.axisLeft(py).tickValues(o.yMajor).tickSize(7).tickFormat(""));
  o.xMajor.forEach(v => text(v + ".", px(v), 972, "middle"));
  o.yMajor.forEach(v => text(v + ".", o.left - o.labelGap, py(v), "end"));
  text(o.xName, o.left + 75.5, 987, "middle");
  rotatedText(o.yName, o.left - 54, 877, -90);
}

orbitPlot({
  left: 216, xDomain: [70, -70], yDomain: [-70, 70], labelGap: 11,
  xMajor: [50, 0, -50], xMinor: d3.range(-70, 71, 10),
  yMajor: [-60, -40, -20, 0, 20, 40, 60], yMinor: d3.range(-70, 71, 10),
  xName: "KSM-X", yName: "KSM-Y",
  bow: bowXY, pause: pauseXY, orbit: [titanOrbitRadius, titanOrbitRadius], orbitWidth: 1.2,
  track: trackXY, trackWidth: 1.5, titan: titanXY, cassini: cassiniXY, cross: crossXY
});
orbitPlot({
  left: 510, xDomain: [40, -40], yDomain: [40, -40], labelGap: 13,
  xMajor: [40, 20, 0, -20, -40], xMinor: d3.range(-40, 41, 10),
  yMajor: [40, 30, 20, 10, 0, -10, -20, -30, -40], yMinor: d3.range(-40, 41, 1),
  xName: "KSM-X", yName: "KSM-Z",
  bow: bowXZ, pause: pauseXZ, saturn: true,
  track: trackXZ, trackWidth: 2, titan: titanXZ, cassini: cassiniXZ, cross: crossXZ
});
orbitPlot({
  left: 803, xDomain: [-70, 70], yDomain: [70, -70], labelGap: 9,
  xMajor: [-50, 0, 50], xMinor: d3.range(-70, 71, 10),
  yMajor: [60, 40, 20, 0, -20, -40, -60], yMinor: d3.range(-70, 71, 10),
  xName: "KSM-Y", yName: "KSM-Z",
  bowRadius: bowRadiusYZ, pauseRadius: pauseRadiusYZ, orbit: [titanOrbitRadius, titanOrbitTilt], orbitWidth: 1.5,
  track: trackYZ, trackWidth: 1.5, titan: titanYZ, cassini: cassiniYZ, cross: crossYZ
});
</script>
</body>
</html>
